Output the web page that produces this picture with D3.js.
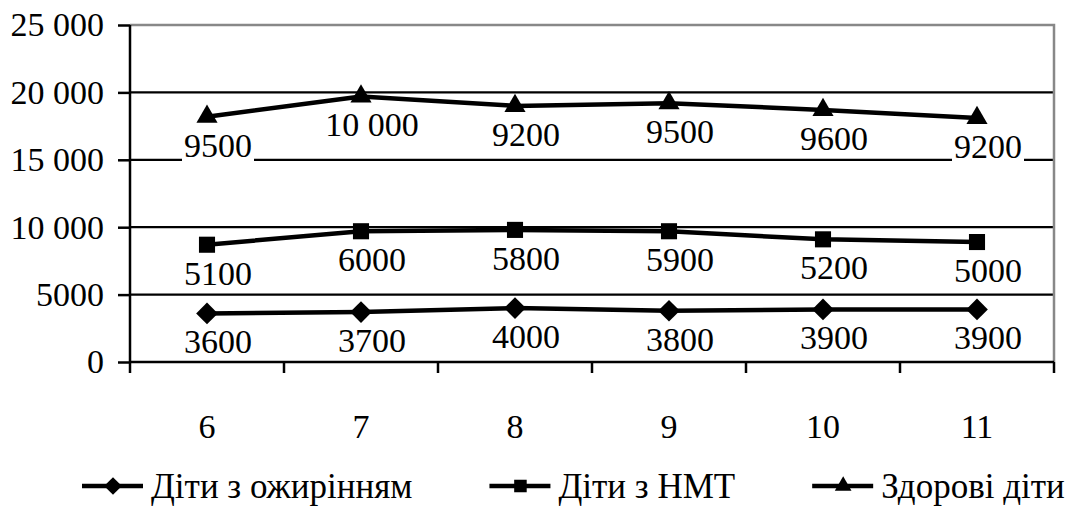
<!DOCTYPE html>
<html>
<head>
<meta charset="utf-8">
<script src="https://cdn.jsdelivr.net/npm/d3@7"></script>
<style>
  body { margin: 0; background: #fff; }
</style>
</head>
<body>
<div id="chart"></div>
<script>
// Chart data
const ages = ["6", "7", "8", "9", "10", "11"];
const obese = [3600, 3700, 4000, 3800, 3900, 3900];
const lowWeight = [5100, 6000, 5800, 5900, 5200, 5000];
const healthy = [9500, 10000, 9200, 9500, 9600, 9200];
const seriesNames = ["Діти з ожирінням", "Діти з НМТ", "Здорові діти"];
const seriesKeys = ["obese", "lowWeight", "healthy"];
const yTicks = [0, 5000, 10000, 15000, 20000, 25000];

const W = 1072, H = 509;
const margin = { top: 25, right: 18, bottom: 147, left: 130 };
const width = W - margin.left - margin.right;
const height = H - margin.top - margin.bottom;
const fontSize = 34;
const serif = "Liberation Serif";

const svg = d3.select("#chart").append("svg")
    .attr("width", W)
    .attr("height", H)
    .attr("font-family", serif);
const g = svg.append("g")
    .attr("transform", `translate(${margin.left},${margin.top})`);

// stacked values (cumulative lines)
const rows = ages.map((a, i) => ({ age: a, obese: obese[i], lowWeight: lowWeight[i], healthy: healthy[i] }));
const stacked = d3.stack().keys(seriesKeys)(rows);

const x = d3.scaleBand().domain(ages).range([0, width]);
const y = d3.scaleLinear().domain([0, 25000]).range([height, 0]);

const fmt = n => n >= 10000 ? d3.format(",")(n).replace(/,/g, " ") : String(n);

// gridlines
g.selectAll(".grid")
    .data(yTicks.filter(t => t > 0 && t < 25000))
    .enter().append("line")
    .attr("x1", 0).attr("x2", width)
    .attr("y1", d => y(d)).attr("y2", d => y(d))
    .attr("stroke", "#000").attr("stroke-width", 2.2);

// plot border top/right in gray
g.append("path")
    .attr("d", `M0,${y(25000)}H${width}V${height}`)
    .attr("fill", "none").attr("stroke", "#888").attr("stroke-width", 2.5);

// y axis
const yAxis = g.append("g")
    .call(d3.axisLeft(y).tickValues(yTicks).tickFormat(fmt).tickSize(12).tickPadding(14));
// x axis
const xAxis = g.append("g")
    .attr("transform", `translate(0,${height})`)
    .call(d3.axisBottom(x).tickSize(0).tickPadding(52));
g.append("g")
    .attr("transform", `translate(0,${height})`)
    .selectAll("line")
    .data(d3.range(ages.length + 1))
    .enter().append("line")
    .attr("x1", d => d * x.bandwidth()).attr("x2", d => d * x.bandwidth())
    .attr("y1", 0).attr("y2", 11)
    .attr("stroke", "#000").attr("stroke-width", 2.5);

[yAxis, xAxis].forEach(ax => {
    ax.attr("font-family", serif).attr("font-size", fontSize);
    ax.selectAll(".domain").attr("stroke", "#000").attr("stroke-width", 2.5);
    ax.selectAll(".tick line").attr("stroke", "#000").attr("stroke-width", 2.5);
    ax.selectAll("text").attr("fill", "#000");
});
yAxis.select(".domain").attr("d", `M0,${y(25000)}V${height}`);
xAxis.select(".domain").attr("d", `M0,0H${width}`);

// markers
const markerShape = {
    obese: d3.symbol().type(d3.symbolDiamond2).size(300),
    lowWeight: d3.symbol().type(d3.symbolSquare2).size(330),
    healthy: d3.symbol().type(d3.symbolTriangle2).size(320)
};
const legendShape = {
    obese: d3.symbol().type(d3.symbolDiamond2).size(200),
    lowWeight: d3.symbol().type(d3.symbolSquare2).size(200),
    healthy: d3.symbol().type(d3.symbolTriangle2).size(200)
};

const line = d3.line()
    .x((d, i) => x(ages[i]) + x.bandwidth() / 2)
    .y(d => y(d[1]));

stacked.forEach(s => {
    g.append("path")
        .datum(s)
        .attr("d", line)
        .attr("fill", "none")
        .attr("stroke", "#000")
        .attr("stroke-width", 4.5)
        .attr("stroke-linejoin", "round");

    g.selectAll(".m-" + s.key)
        .data(s)
        .enter().append("path")
        .attr("transform", (d, i) => `translate(${x(ages[i]) + x.bandwidth() / 2},${y(d[1])})`)
        .attr("d", markerShape[s.key])
        .attr("fill", "#000");
});

// data labels (individual values, below each point, white background)
stacked.forEach(s => {
    s.forEach((d, i) => {
        const lg = g.append("g")
            .attr("transform", `translate(${x(ages[i]) + x.bandwidth() / 2 + 11},${y(d[1]) + 40})`);
        const t = lg.append("text")
            .attr("text-anchor", "middle")
            .attr("font-family", serif)
            .attr("font-size", fontSize)
            .attr("fill", "#000")
            .text(fmt(d.data[s.key]));
        const bb = t.node().getBBox();
        lg.insert("rect", "text")
            .attr("x", bb.x - 2).attr("y", bb.y + 3)
            .attr("width", bb.width + 4).attr("height", bb.height - 5)
            .attr("fill", "#fff");
    });
});

// legend
const legend = svg.append("g").attr("transform", "translate(82,486)");
let lx = 0;
seriesKeys.forEach((k, i) => {
    const item = legend.append("g").attr("transform", `translate(${lx},0)`);
    item.append("line")
        .attr("x1", 0).attr("x2", 61)
        .attr("stroke", "#000").attr("stroke-width", 4.5);
    item.append("path")
        .attr("transform", "translate(31,0)")
        .attr("d", legendShape[k])
        .attr("fill", "#000");
    const t = item.append("text")
        .attr("x", 69).attr("y", 12)
        .attr("font-family", serif)
        .attr("font-size", 35)
        .attr("fill", "#000")
        .text(seriesNames[i]);
    lx += 69 + t.node().getComputedTextLength() + 77;
});
</script>
</body>
</html>
